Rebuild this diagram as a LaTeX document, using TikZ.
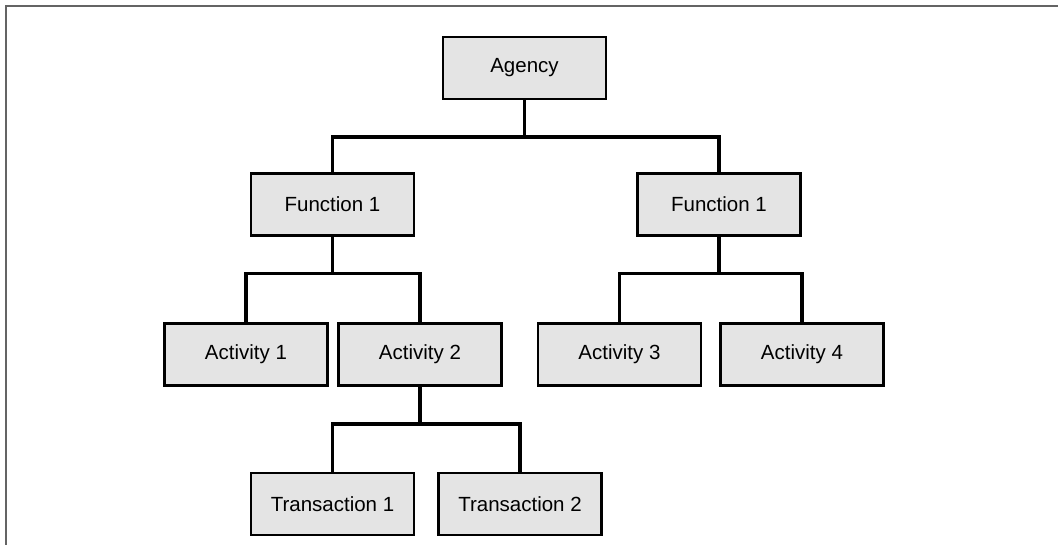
\documentclass[tikz,border=0pt]{standalone}
\usepackage{fontspec}
\setmainfont{Liberation Sans}
\usepackage{xcolor}
\usetikzlibrary{calc}

\definecolor{boxfill}{RGB}{228,228,228}
\definecolor{framegray}{RGB}{100,100,100}

\tikzset{
  unit/.style = {draw, line width=2.4pt, fill=boxfill, minimum width=163pt,
                 minimum height=62pt, inner sep=0pt,
                 font=\fontsize{20.5}{24}\selectfont},
  link/.style = {line width=3.6pt}
}

\begin{document}
\begin{tikzpicture}[x=1pt, y=-1pt]
\useasboundingbox (0,0) rectangle (1058,545);

%Frame
\draw[framegray, line width=2pt] (1058,6) -- (6,6) -- (6,545);

%Units
\node[unit] (agency) at (524.5,68) {Agency};
\node[unit] (funcL) at (332.5,204.5) {Function 1};
\node[unit] (funcR) at (719,204.5) {Function 1};
\node[unit] (act1) at (246,354.5) {Activity 1};
\node[unit] (act2) at (420,354.5) {Activity 2};
\node[unit] (act3) at (619.5,354.5) {Activity 3};
\node[unit] (act4) at (802,354.5) {Activity 4};
\node[unit] (trans1) at (332.5,504) {Transaction 1};
\node[unit] (trans2) at (520,504) {Transaction 2};

%Links from parent to child
\foreach \p/\c in {agency/funcL, agency/funcR, funcL/act1, funcL/act2,
                   funcR/act3, funcR/act4, act2/trans1, act2/trans2}
  \draw[link] (\p.south) -- ++(0,37) -| (\c.north);

\end{tikzpicture}
\end{document}
